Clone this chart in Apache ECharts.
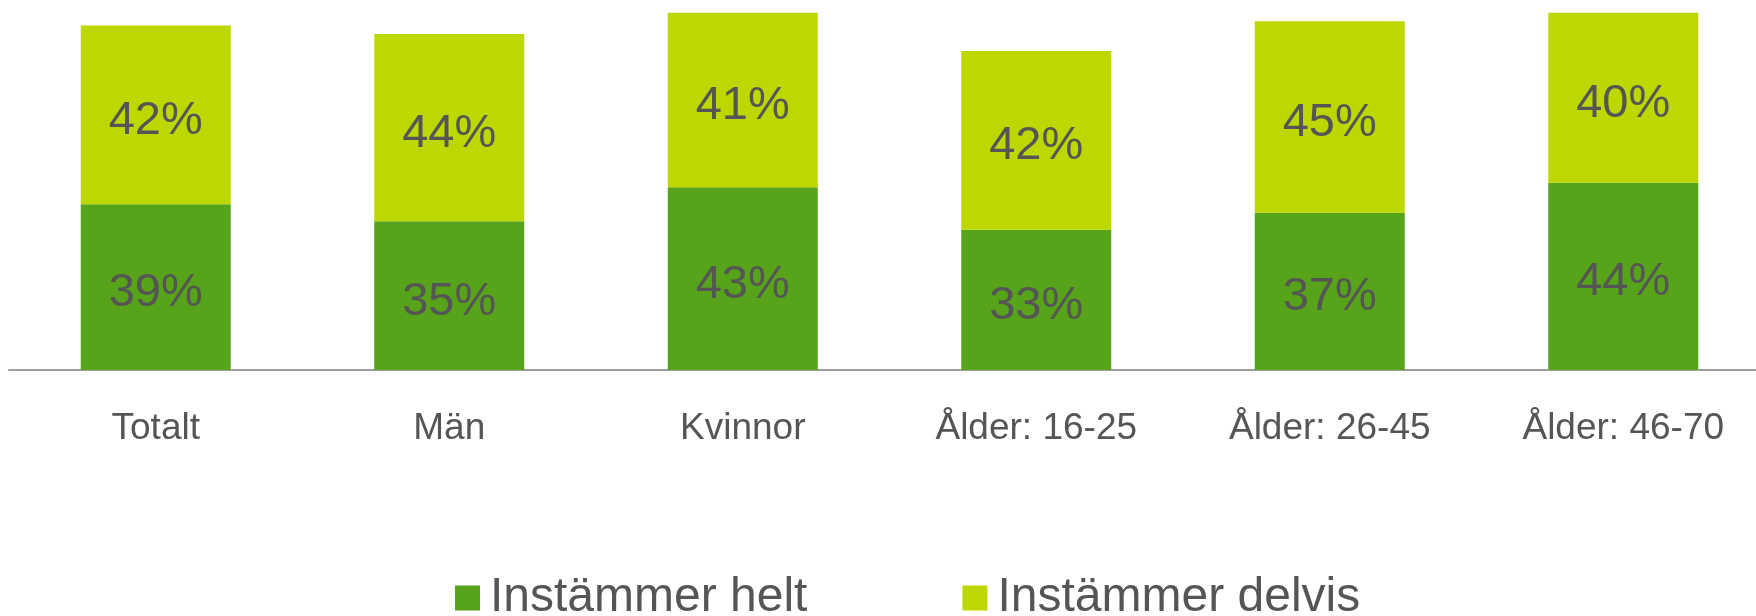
<!DOCTYPE html>
<html>
<head>
<meta charset="utf-8">
<script src="https://cdn.jsdelivr.net/npm/echarts@6/dist/echarts.min.js"></script>
<style>
  html, body { margin: 0; padding: 0; background: #fff; }
  #chart { width: 1756px; height: 616px; }
</style>
</head>
<body>
<div id="chart"></div>
<script>
// values
const categories = ["Totalt", "Män", "Kvinnor", "Ålder: 16-25", "Ålder: 26-45", "Ålder: 46-70"];
const helt = [39, 35, 43, 33, 37, 44];
const delvis = [42, 44, 41, 42, 45, 40];
const seriesNames = ["Instämmer helt", "Instämmer delvis"];

const FONT = "'Liberation Sans', Arial, sans-serif";
const TEXT = "#555555";

const chart = echarts.init(document.getElementById("chart"));

const valueLabel = {
  show: true,
  position: "inside",
  offset: [0, 6],
  formatter: (p) => p.value + "%",
  color: TEXT,
  fontSize: 47,
  fontFamily: FONT,
};

chart.setOption({
  animation: false,
  textStyle: { fontFamily: FONT },
  grid: { left: 9, right: -14, top: 0, bottom: 246, outerBoundsMode: "none" },
  legend: {
    data: seriesNames,
    left: 455,
    top: 574,
    padding: 0,
    itemWidth: 25,
    itemHeight: 25,
    itemGap: 155,
    icon: "rect",
    textStyle: { color: TEXT, fontSize: 48, fontFamily: FONT, padding: [0, 0, 0, 5] },
  },
  xAxis: {
    type: "category",
    data: categories,
    axisLine: { lineStyle: { color: "#9E9E9E", width: 2 } },
    axisTick: { show: false },
    axisLabel: { color: TEXT, fontSize: 37, fontFamily: FONT, margin: 40 },
  },
  yAxis: {
    type: "value",
    min: 0,
    max: 87,
    show: false,
    splitLine: { show: false },
  },
  series: [
    {
      name: seriesNames[0],
      type: "bar",
      stack: "total",
      data: helt,
      barWidth: 150,
      itemStyle: { color: "#57A319" },
      label: valueLabel,
    },
    {
      name: seriesNames[1],
      type: "bar",
      stack: "total",
      data: delvis,
      barWidth: 150,
      itemStyle: { color: "#BDD700" },
      label: valueLabel,
    },
  ],
});

window.addEventListener("resize", () => chart.resize());
</script>
</body>
</html>
